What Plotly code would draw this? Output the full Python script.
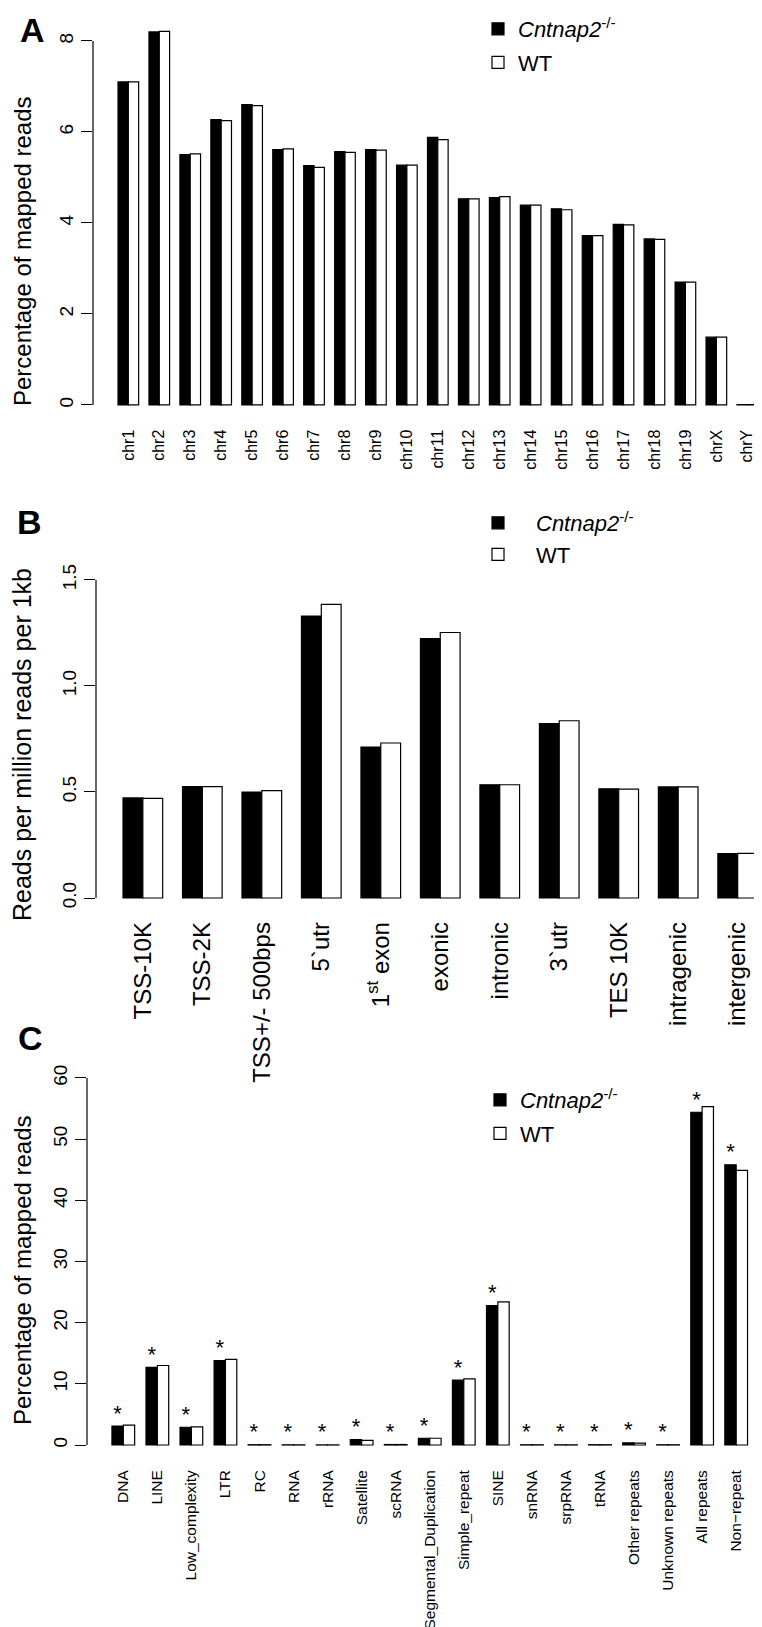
import plotly.graph_objects as go

W, H = 762, 1627
FONT = "Liberation Sans, Arial, Helvetica, sans-serif"

# ---------------- data ----------------
chromosomes = ["chr1", "chr2", "chr3", "chr4", "chr5", "chr6", "chr7", "chr8", "chr9", "chr10",
               "chr11", "chr12", "chr13", "chr14", "chr15", "chr16", "chr17", "chr18", "chr19",
               "chrX", "chrY"]
chr_ko = [7.10, 8.20, 5.50, 6.27, 6.60, 5.61, 5.26, 5.57, 5.61, 5.27, 5.88, 4.53, 4.56, 4.39,
          4.31, 3.72, 3.97, 3.65, 2.70, 1.49, 0.01]
chr_wt = [7.10, 8.21, 5.52, 6.25, 6.58, 5.63, 5.22, 5.55, 5.60, 5.27, 5.83, 4.53, 4.58, 4.39,
          4.29, 3.72, 3.96, 3.64, 2.70, 1.49, 0.01]
chr_ticks = [0, 2, 4, 6, 8]

regions = ["TSS-10K", "TSS-2K", "TSS+/- 500bps", "5`utr", "1<sup>st</sup> exon", "exonic",
           "intronic", "3`utr", "TES 10K", "intragenic", "intergenic"]
reg_ko = [0.472, 0.525, 0.500, 1.330, 0.712, 1.223, 0.534, 0.822, 0.515, 0.524, 0.209]
reg_wt = [0.470, 0.525, 0.506, 1.385, 0.731, 1.252, 0.534, 0.836, 0.513, 0.524, 0.210]
reg_ticks = [0.0, 0.5, 1.0, 1.5]
reg_ticktext = ["0.0", "0.5", "1.0", "1.5"]

repeat_classes = ["DNA", "LINE", "Low_complexity", "LTR", "RC", "RNA", "rRNA", "Satellite",
                  "scRNA", "Segmental_Duplication", "Simple_repeat", "SINE", "snRNA", "srpRNA",
                  "tRNA", "Other repeats", "Unknown repeats", "All repeats", "Non\u2212repeat"]
rep_ko = [3.10, 12.7, 2.90, 13.8, 0.05, 0.03, 0.02, 0.90, 0.08, 1.10, 10.6, 22.8, 0.04, 0.03,
          0.05, 0.35, 0.04, 54.4, 45.8]
rep_wt = [3.25, 13.0, 2.95, 14.0, 0.05, 0.03, 0.02, 0.75, 0.08, 1.10, 10.8, 23.4, 0.04, 0.03,
          0.05, 0.30, 0.04, 55.3, 44.9]
rep_sig = ["*", "*", "*", "*", "*", "*", "*", "*", "*", "*", "*", "*", "*", "*", "*", "*", "*",
           "*", "*"]
rep_ticks = [0, 10, 20, 30, 40, 50, 60]

KO_NAME = "<i>Cntnap2</i><sup>-/-</sup>"
WT_NAME = "WT"


def px_x(p):
    return p / W


def px_y(p):
    return 1 - p / H


fig = go.Figure()


def add_panel(idx, cats, ko, wt, legend_name, show_leg):
    sfx = "" if idx == 1 else str(idx)
    n = len(cats)
    x_ko = [3 * i + 1.5 for i in range(n)]
    x_wt = [3 * i + 2.5 for i in range(n)]
    fig.add_trace(go.Bar(x=x_ko, y=ko, width=1, name=KO_NAME, xaxis="x" + sfx, yaxis="y" + sfx,
                         marker=dict(color="black", line=dict(color="black", width=1.2)),
                         legend=legend_name, legendgroup="ko" + sfx, showlegend=show_leg,
                         hoverinfo="skip"))
    fig.add_trace(go.Bar(x=x_wt, y=wt, width=1, name=WT_NAME, xaxis="x" + sfx, yaxis="y" + sfx,
                         marker=dict(color="white", line=dict(color="black", width=1.2)),
                         legend=legend_name, legendgroup="wt" + sfx, showlegend=show_leg,
                         hoverinfo="skip"))
    return x_ko


add_panel(1, chromosomes, chr_ko, chr_wt, "legend", True)
add_panel(2, regions, reg_ko, reg_wt, "legend2", True)
xk = add_panel(3, repeat_classes, rep_ko, rep_wt, "legend3", True)

fig.add_trace(go.Scatter(x=xk, y=rep_ko, text=rep_sig, mode="text", textposition="top center",
                         textfont=dict(family=FONT, size=22, color="black"),
                         xaxis="x3", yaxis="y3", showlegend=False, cliponaxis=False,
                         hoverinfo="skip"))


def xaxis(dom_left, rng, cats, size, standoff):
    n = len(cats)
    return dict(domain=[px_x(dom_left), 1], range=rng, showgrid=False, zeroline=False,
                showline=False, ticks="", tickmode="array",
                tickvals=[3 * i + 2 for i in range(n)], ticktext=cats, tickangle=-90,
                tickfont=dict(family=FONT, size=size, color="black"),
                ticklabelstandoff=standoff, fixedrange=True)


def yaxis(dom_top, dom_bottom, rng, tickvals, ticktext, size, anchor):
    return dict(domain=[px_y(dom_bottom), px_y(dom_top)], range=rng, showgrid=False,
                zeroline=False, showline=False, ticks="outside", ticklen=11, tickwidth=1.2,
                tickcolor="black", tickmode="array", tickvals=tickvals, ticktext=ticktext,
                tickangle=-90, tickfont=dict(family=FONT, size=size, color="black"),
                anchor=anchor, fixedrange=True)


layout = dict(
    width=W, height=H, margin=dict(l=0, r=0, t=0, b=0, autoexpand=False),
    paper_bgcolor="white", plot_bgcolor="rgba(0,0,0,0)",
    barmode="overlay", font=dict(family=FONT, color="black"),
    xaxis=xaxis(85, [-1.425, 64.2], chromosomes, 16, 16),
    yaxis=yaxis(10, 401.5, [-0.1, 8.505], chr_ticks, [str(t) for t in chr_ticks], 19, "x"),
    xaxis2=xaxis(88, [-0.363, 33.63], regions, 24, 14),
    yaxis2=yaxis(545, 894.24, [-0.02, 1.627], reg_ticks, reg_ticktext, 19, "x2"),
    xaxis3=xaxis(79, [-1.198, 58.98], repeat_classes, 15.5, 18),
    yaxis3=yaxis(1060, 1440.06, [-0.5, 61.63], rep_ticks, [str(t) for t in rep_ticks], 19, "x3"),
)
layout["xaxis"]["anchor"] = "y"
layout["xaxis2"]["anchor"] = "y2"
layout["xaxis3"]["anchor"] = "y3"


def legend(x, y, itemwidth, gap):
    return dict(x=px_x(x), y=min(1.0, px_y(y)), xanchor="left", yanchor="top",
                bgcolor="rgba(0,0,0,0)",
                font=dict(family=FONT, size=22, color="black"), itemwidth=itemwidth,
                tracegroupgap=gap, traceorder="grouped", borderwidth=0)


layout["legend"] = legend(470, 0, 30, 2)
layout["legend2"] = legend(452, 494, 66, 0)
layout["legend3"] = legend(472, 1071, 30, 2)

fig.update_layout(**layout)

# axis lines spanning the tick range (R style)
for sfx, ticks in (("", chr_ticks), ("2", reg_ticks), ("3", rep_ticks)):
    fig.add_shape(type="line", xref="x" + sfx + " domain", yref="y" + sfx,
                  x0=0, x1=0, y0=min(ticks), y1=max(ticks),
                  line=dict(color="black", width=1.2))

# panel letters
for letter, (lx, ly) in zip(["A", "B", "C"], [(24, 22), (21, 514), (22, 1030)]):
    fig.add_annotation(text="<b>" + letter + "</b>", x=px_x(lx), y=px_y(ly), xref="paper",
                       yref="paper", showarrow=False, xanchor="center", yanchor="middle",
                       font=dict(family=FONT, size=34, color="black"))

# y-axis titles
for title, (tx, ty), size in [("Percentage of mapped reads", (14, 243), 24),
                              ("Reads per million reads per 1kb", (14, 737), 25),
                              ("Percentage of mapped reads", (14, 1262), 24)]:
    fig.add_annotation(text=title, x=px_x(tx), y=px_y(ty), xref="paper", yref="paper",
                       showarrow=False, textangle=-90, xanchor="center", yanchor="middle",
                       font=dict(family=FONT, size=size, color="black"))

fig.write_html("out.html")
